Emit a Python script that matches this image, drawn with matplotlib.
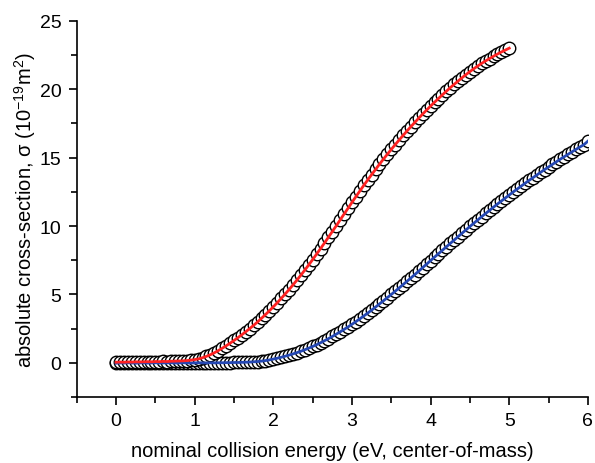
import numpy as np
import matplotlib
matplotlib.use('Agg')
import matplotlib.pyplot as plt
from matplotlib.ticker import MultipleLocator

plt.rcParams['font.family'] = ['Liberation Sans', 'DejaVu Sans']
plt.rcParams['mathtext.fontset'] = 'custom'
plt.rcParams['mathtext.rm'] = 'Liberation Sans'

step = 0.05

# red series, x = 0.00 ... 5.00 every 0.05 eV
red_vals = [0.05, 0.06, 0.05, 0.07, 0.06, 0.08, 0.07, 0.08, 0.09, 0.08,
            0.10, 0.09, 0.11, 0.10, 0.12, 0.13, 0.14,
            0.15, 0.17, 0.20, 0.24, 0.30, 0.38, 0.48, 0.60, 0.74, 0.90,
            1.07, 1.25, 1.44, 1.64, 1.85, 2.06, 2.28, 2.51, 2.75, 3.00,
            3.26, 3.53, 3.81, 4.10, 4.40, 4.71, 5.03, 5.36, 5.70, 6.05,
            6.41, 6.78, 7.16, 7.55, 7.95, 8.35, 8.76, 9.18, 9.60, 10.02,
            10.45, 10.88, 11.30, 11.73, 12.15, 12.56, 12.97, 13.37, 13.76, 14.14,
            14.52, 14.89, 15.25, 15.60, 15.95, 16.29, 16.62, 16.95, 17.27, 17.58,
            17.89, 18.19, 18.48, 18.77, 19.05, 19.32, 19.59, 19.85, 20.11, 20.36,
            20.60, 20.84, 21.07, 21.29, 21.50, 21.70, 21.89, 22.07, 22.24, 22.41,
            22.57, 22.72, 22.86, 23.00]

# blue series, x = 0.00 ... 6.00 every 0.05 eV
blue_vals = [-0.02, 0.00, -0.01, 0.01, 0.00, -0.02, 0.00, 0.01, -0.01, 0.00,
             0.01, -0.01, 0.00, 0.00, 0.01, -0.01, 0.00, 0.01, 0.00, -0.01,
             0.00, 0.01, 0.00, 0.00, 0.01, 0.00, 0.01, 0.01, 0.02, 0.02, 0.03,
             0.03, 0.04, 0.05, 0.06, 0.08, 0.10, 0.13, 0.17, 0.22, 0.28,
             0.34, 0.41, 0.49, 0.57, 0.66, 0.75, 0.85, 0.96, 1.08, 1.20,
             1.33, 1.47, 1.62, 1.77, 1.93, 2.10, 2.27, 2.45, 2.63, 2.82,
             3.02, 3.22, 3.43, 3.64, 3.86, 4.08, 4.31, 4.54, 4.77, 5.00,
             5.24, 5.48, 5.72, 5.97, 6.21, 6.46, 6.71, 6.97, 7.22, 7.48,
             7.73, 7.98, 8.23, 8.48, 8.73, 8.98, 9.23, 9.48, 9.72, 9.97,
             10.21, 10.45, 10.69, 10.92, 11.15, 11.38, 11.61, 11.83, 12.05, 12.27,
             12.49, 12.70, 12.91, 13.12, 13.33, 13.53, 13.73, 13.93, 14.13, 14.32,
             14.51, 14.70, 14.89, 15.07, 15.25, 15.43, 15.61, 15.78, 15.95, 16.20]

red_x = np.arange(len(red_vals)) * step
blue_x = np.arange(len(blue_vals)) * step

fig = plt.figure(figsize=(5.95, 4.64), dpi=100)
ax = fig.add_axes([0.129, 0.142, 0.859, 0.811])

for xs, ys, lc in [(blue_x, blue_vals, '#2548b4'), (red_x, red_vals, '#ff2222')]:
    ax.plot(xs, ys, 'o', ms=9, mfc='white', mec='black', mew=1.0, zorder=2)
    ax.plot(xs, ys, '-', color=lc, lw=2.0, zorder=3)

ax.set_xlim(-0.5, 6)
ax.set_ylim(-2.5, 25)
ax.xaxis.set_major_locator(MultipleLocator(1))
ax.xaxis.set_minor_locator(MultipleLocator(0.5))
ax.yaxis.set_major_locator(MultipleLocator(5))
ax.yaxis.set_minor_locator(MultipleLocator(2.5))
ax.spines['top'].set_visible(False)
ax.spines['right'].set_visible(False)
for s in ['left', 'bottom']:
    ax.spines[s].set_linewidth(1.2)
ax.tick_params(which='major', direction='out', length=6, width=1.2, labelsize=14, pad=5)
ax.tick_params(which='minor', direction='out', length=4, width=1.2)

ax.set_xlabel('nominal collision energy (eV, center-of-mass)', fontsize=14.5, labelpad=8)
ax.set_ylabel(r'absolute cross-section, σ (10$^{-19}$m$^{2}$)', fontsize=14.5, labelpad=1)

fig.savefig('out.png', dpi=100)
